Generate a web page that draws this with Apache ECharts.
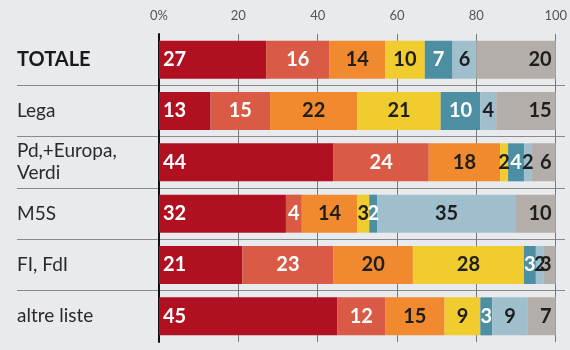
<!DOCTYPE html>
<html><head><meta charset="utf-8">
<script src="https://cdn.jsdelivr.net/npm/echarts@6/dist/echarts.min.js"></script>
<style>html,body{margin:0;padding:0;background:#e8eaee}#c{width:570px;height:350px}</style>
</head><body><div id="c"></div>
<script>
const categories = ['TOTALE', 'Lega', 'Pd,+Europa,\nVerdi', 'M5S', 'FI, FdI', 'altre liste'];
const s1 = [27, 13, 44, 32, 21, 45];
const s2 = [16, 15, 24, 4, 23, 12];
const s3 = [14, 22, 18, 14, 20, 15];
const s4 = [10, 21, 2, 3, 28, 9];
const s5 = [7, 10, 4, 2, 3, 3];
const s6 = [6, 4, 2, 35, 2, 9];
const s7 = [20, 15, 6, 10, 3, 7];
const xTicks = [0, 20, 40, 60, 80, 100];

const colors = ['#b0101f', '#d95a45', '#f18a2e', '#f0cc2f', '#4d8fa2', '#9fbfcc', '#b3aea9'];
const labelColors = ['#ffffff', '#ffffff', '#1e1e1e', '#1e1e1e', '#ffffff', '#1e1e1e', '#1e1e1e'];
const positions = ['insideLeft', 'inside', 'inside', 'inside', 'inside', 'inside', 'insideRight'];
const allSeries = [s1, s2, s3, s4, s5, s6, s7];
const cats = categories.slice().reverse();

const series = allSeries.map((d, i) => ({
  type: 'bar', stack: 'all', xAxisIndex: 0, yAxisIndex: 0,
  data: d.slice().reverse(), barWidth: 38,
  itemStyle: { color: colors[i] },
  label: { show: true, position: positions[i], distance: 4, color: labelColors[i],
    fontFamily: 'Lato', fontSize: 20, fontWeight: 'bold' },
  silent: true, animation: false
}));

const chart = echarts.init(document.getElementById('c'));
chart.setOption({
  backgroundColor: '#e8eaee',
  animation: false,
  grid: [
    { left: 17, right: 5, top: 34, bottom: 8 },
    { left: 159, right: 6, top: 34, bottom: 8 }
  ],
  xAxis: [
    { gridIndex: 1, type: 'value', position: 'top', min: xTicks[0], max: xTicks[xTicks.length - 1], interval: 20,
      axisLine: { show: false }, axisTick: { show: false },
      axisLabel: { color: '#555', fontFamily: 'Lato', fontSize: 13, margin: 12,
        formatter: v => v === 0 ? '0%' : String(v) },
      splitLine: { show: true, lineStyle: { color: '#7a7a7a', width: 1 } } },
    { gridIndex: 0, type: 'value', show: false, min: 0, max: 1 }
  ],
  yAxis: [
    { gridIndex: 1, type: 'category', data: cats,
      axisLine: { show: true, lineStyle: { color: '#111', width: 2 } },
      axisTick: { show: false }, axisLabel: { show: false }, splitLine: { show: false } },
    { gridIndex: 0, type: 'category', data: cats,
      axisLine: { show: false }, axisTick: { show: false },
      axisLabel: { inside: true, margin: 0, align: 'left', color: '#2a2a2a',
        fontFamily: 'Lato', fontSize: 19, lineHeight: 22,
        formatter: v => v === 'TOTALE' ? '{b|' + v + '}' : v,
        rich: { b: { fontWeight: 'bold', fontSize: 20, color: '#1a1a1a', fontFamily: 'Lato' } } },
      splitLine: { show: true, showMinLine: false, showMaxLine: false, lineStyle: { color: '#8a8a8a', width: 1 } } }
  ],
  series: series
});
</script></body></html>
